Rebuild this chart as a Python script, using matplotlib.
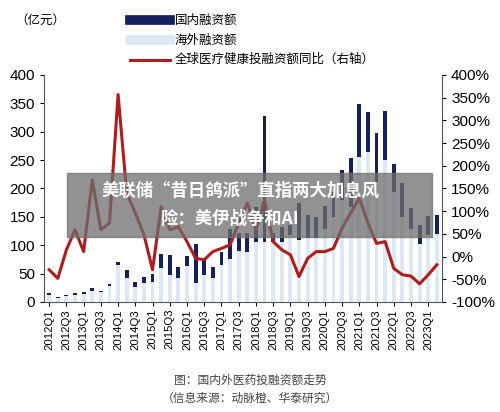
import matplotlib
matplotlib.use("Agg")
import matplotlib.pyplot as plt
import numpy as np
from matplotlib.patches import Rectangle

plt.rcParams['font.family'] = ['Noto Sans CJK SC', 'DejaVu Sans']

quarters = [f"{y}Q{q}" for y in range(2012, 2024) for q in range(1, 5)][:46]
total = [15, 9, 13, 16, 18, 25, 20, 32, 70, 56, 36, 44, 50, 84, 82, 62, 81, 103, 74, 62,
         88, 128, 122, 122, 168, 328, 122, 132, 136, 175, 153, 150, 170, 194, 233, 253,
         349, 334, 297, 337, 244, 209, 165, 135, 152, 154]
overseas = [12, 7, 11, 13, 14, 19, 17, 28, 65, 43, 26, 34, 35, 60, 48, 42, 63, 34, 48, 43,
            65, 76, 90, 88, 106, 106, 105, 106, 118, 109, 112, 112, 129, 150, 179, 168,
            256, 265, 212, 251, 194, 150, 129, 103, 118, 119]
domestic = [t - o for t, o in zip(total, overseas)]
yoy = [-29, -48, 15, 59, 11, 169, 59, 74, 357, 140, 96, 48, -29, 110, 59, 66, 33, -4, -7, 11,
       18, 26, 74, 118, 59, 125, 33, 15, 4, -44, -4, 11, 11, 18, 63, 96,
       129, 74, 29, 33, -26, -40, -43, -60, -40, -18]

fig = plt.figure(figsize=(5, 4.12), dpi=100)
ax = fig.add_axes([0.088, 0.267, 0.796, 0.551])
x = np.arange(len(quarters))
ax.bar(x, overseas, width=0.45, color='#dce8f5', label='海外融资额')
ax.bar(x, domestic, bottom=overseas, width=0.45, color='#14215a', label='国内融资额')
ax.set_xlim(-0.6, len(quarters) - 0.4)
ax.set_ylim(0, 400)
ax.set_yticks(range(0, 401, 50))
ax.set_xticks(x[::2])
ax.set_xticklabels(quarters[::2], rotation=90, fontsize=8.2, family='Liberation Sans')
for lab in ax.get_yticklabels():
    lab.set_family('Liberation Sans')
ax.tick_params(axis='y', labelsize=11, length=3)
ax.tick_params(axis='x', length=3, pad=2)
for s in ['top', 'right']:
    ax.spines[s].set_visible(False)
ax.spines['left'].set_color('#555')
ax.spines['bottom'].set_color('#555')

ax2 = ax.twinx()
ax2.plot(x, yoy, color='#b01c1c', lw=2.2, label='全球医疗健康投融资额同比（右轴）')
ax2.set_ylim(-100, 400)
ax2.set_yticks(range(-100, 401, 50))
ax2.set_yticklabels([f"{v}%" for v in range(-100, 401, 50)], family='Liberation Sans')
ax2.tick_params(axis='y', labelsize=11, length=3)
for s in ['top', 'left', 'bottom']:
    ax2.spines[s].set_visible(False)
ax2.spines['right'].set_color('#555')

fig.text(0.03, 0.951, '（亿元）', fontsize=9, va='center')
items = [('#14215a', 7, '国内融资额'), ('#dce8f5', 7, '海外融资额'), ('#b01c1c', 2.2, '全球医疗健康投融资额同比（右轴）')]
for i, (c, lw, t) in enumerate(items):
    yy = 0.951 - i * 0.048
    fig.add_artist(plt.Line2D([0.26, 0.34], [yy, yy], color=c, lw=lw, transform=fig.transFigure))
    fig.text(0.35, yy, t, fontsize=9, va='center')

fig.text(0.5, 0.078, '图：国内外医药投融资额走势', fontsize=8.5, ha='center', va='center', color='#444')
fig.text(0.5, 0.034, '（信息来源：动脉橙、华泰研究）', fontsize=8.5, ha='center', va='center', color='#444')

fig.add_artist(Rectangle((0.134, 0.425), 0.73, 0.155, transform=fig.transFigure,
                         color='#6e6e6e', alpha=0.75, zorder=10))
fig.text(0.48, 0.537, '美联储“昔日鸽派”直指两大加息风', fontsize=12.5, weight='bold',
         color='white', ha='center', va='center', zorder=11)
fig.text(0.46, 0.468, '险：美伊战争和AI', fontsize=12.5, weight='bold',
         color='white', ha='center', va='center', zorder=11)

fig.savefig('out.png', dpi=100)
